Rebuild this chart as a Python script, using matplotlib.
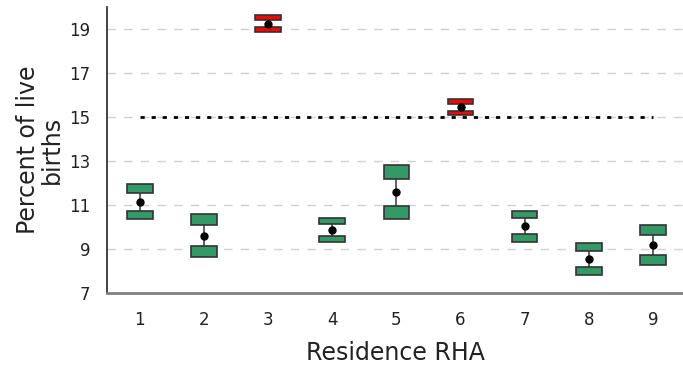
import matplotlib
matplotlib.use("Agg")
import matplotlib.pyplot as plt

# percent of live births by residence RHA, with interval bands
rha = [1, 2, 3, 4, 5, 6, 7, 8, 9]
estimate = [11.12, 9.59, 19.23, 9.85, 11.56, 15.43, 10.03, 8.55, 9.17]
upper_top = [11.93, 10.56, 19.63, 10.41, 12.79, 15.79, 10.73, 9.25, 10.08]
upper_bot = [11.52, 10.07, 19.41, 10.14, 12.15, 15.60, 10.38, 8.90, 9.64]
lower_top = [10.73, 9.11, 19.07, 9.58, 10.95, 15.26, 9.66, 8.17, 8.72]
lower_bot = [10.34, 8.64, 18.85, 9.29, 10.34, 15.07, 9.32, 7.81, 8.27]
target = 15
yticks = [7, 9, 11, 13, 15, 17, 19]

green = "#339966"
red = "#ff0000"
colors = [red if e > target else green for e in estimate]

fig = plt.figure(figsize=(6.83, 3.66), dpi=100)
ax = fig.add_axes([0.157, 0.2, 0.843, 0.7817])

for y in yticks[1:]:
    ax.axhline(y, color="#d0d0d0", lw=1, ls=(0, (6, 6)), zorder=0)

ax.plot([rha[0], rha[-1]], [target, target], color="black", lw=2,
        ls=(0, (1.5, 2.5)), zorder=1)

ax.vlines(rha, lower_top, upper_bot, color="#555555", lw=1.3, zorder=2)

h_up = [t - b for t, b in zip(upper_top, upper_bot)]
h_lo = [t - b for t, b in zip(lower_top, lower_bot)]
ax.bar(rha, h_up, bottom=upper_bot, width=0.4, color=colors,
       edgecolor="#333333", linewidth=1.2, zorder=3)
ax.bar(rha, h_lo, bottom=lower_bot, width=0.4, color=colors,
       edgecolor="#333333", linewidth=1.2, zorder=3)

ax.plot(rha, estimate, "o", color="black", ms=5, zorder=4)

ax.set_xlim(0.49, 9.47)
ax.set_ylim(7, 20)
ax.set_xticks(rha)
ax.set_yticks(yticks)
ax.tick_params(axis="both", length=0, labelsize=12, colors="#222222")
ax.tick_params(axis="x", pad=13)
ax.tick_params(axis="y", pad=12)

for s in ["top", "right"]:
    ax.spines[s].set_visible(False)
ax.spines["left"].set_color("#222222")
ax.spines["left"].set_linewidth(1.2)
ax.spines["bottom"].set_color("#808080")
ax.spines["bottom"].set_linewidth(2)

ax.set_xlabel("Residence RHA", fontsize=17, color="#222222", labelpad=9)
ax.set_ylabel("Percent of live\nbirths", fontsize=17, color="#222222",
              labelpad=4, linespacing=1.0)

fig.savefig("out.png", dpi=100)
